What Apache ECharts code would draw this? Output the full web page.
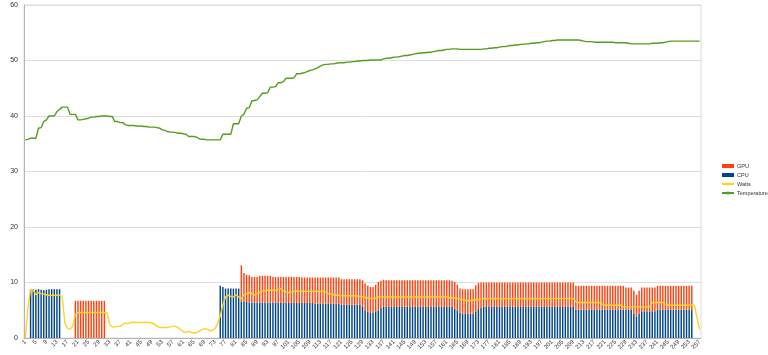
<!DOCTYPE html>
<html>
<head>
<meta charset="utf-8">
<script src="https://cdn.jsdelivr.net/npm/echarts@6/dist/echarts.min.js"></script>
<style>html,body{margin:0;padding:0;background:#fff}#chart{width:768px;height:355px}</style>
</head>
<body>
<div id="chart"></div>
<script>
// sample index 1..257
var samples = [];
for (var i = 1; i <= 257; i++) samples.push(String(i));

var cpu = [
  0,0,8.8,8.8,8.7,8.8,8.7,8.6,8.7,8.8,
  8.8,8.8,8.8,8.8,0,0,0,0,0,0,
  0,0,0,0,0,0,0,0,0,0,
  0,0,0,0,0,0,0,0,0,0,
  0,0,0,0,0,0,0,0,0,0,
  0,0,0,0,0,0,0,0,0,0,
  0,0,0,0,0,0,0,0,0,0,
  0,0,0,0,9.4,9.2,8.9,8.9,8.9,8.9,
  8.9,8.9,6.6,6.5,6.5,6.4,6.4,6.4,6.4,6.4,
  6.4,6.4,6.4,6.4,6.4,6.4,6.4,6.3,6.3,6.3,
  6.3,6.3,6.3,6.3,6.3,6.3,6.3,6.3,6.3,6.3,
  6.2,6.2,6.2,6.2,6.2,6.2,6.2,6.2,6.2,6.2,
  6.0,6.0,6.0,6.0,6.0,6.0,6.0,6.0,5.7,5.0,
  4.7,4.5,4.5,4.8,5.0,5.5,5.6,5.6,5.6,5.6,
  5.6,5.6,5.6,5.6,5.6,5.6,5.6,5.6,5.6,5.6,
  5.6,5.6,5.6,5.6,5.6,5.6,5.6,5.6,5.6,5.6,
  5.6,5.6,5.6,5.3,5.0,4.6,4.4,4.4,4.4,4.4,
  4.4,4.7,5.2,5.5,5.6,5.6,5.6,5.6,5.6,5.6,
  5.6,5.6,5.6,5.6,5.6,5.6,5.6,5.6,5.6,5.6,
  5.6,5.6,5.6,5.6,5.6,5.6,5.6,5.6,5.6,5.6,
  5.6,5.6,5.6,5.6,5.6,5.6,5.6,5.6,5.6,5.1,
  5.1,5.1,5.1,5.1,5.1,5.1,5.1,5.1,5.1,5.1,
  5.1,5.1,5.1,5.1,5.1,5.1,5.1,5.1,5.1,5.1,
  5.1,4.4,3.9,4.4,4.8,4.8,4.8,4.8,4.8,4.8,
  5.1,5.1,5.1,5.1,5.1,5.1,5.1,5.1,5.1,5.1,
  5.1,5.1,5.1,5.1,0,0,0
];

var gpu = [
  0,0,0,0,0,0,0,0,0,0,
  0,0,0,0,0,0,0,0,0,6.7,
  6.7,6.7,6.7,6.7,6.7,6.7,6.7,6.7,6.7,6.7,
  6.7,0,0,0,0,0,0,0,0,0,
  0,0,0,0,0,0,0,0,0,0,
  0,0,0,0,0,0,0,0,0,0,
  0,0,0,0,0,0,0,0,0,0,
  0,0,0,0,0,0,0,0,0,0,
  0,0,6.5,5.2,4.9,4.9,4.6,4.6,4.6,4.8,
  4.8,4.8,4.8,4.8,4.6,4.6,4.6,4.7,4.7,4.7,
  4.7,4.7,4.7,4.7,4.7,4.6,4.6,4.6,4.6,4.6,
  4.7,4.7,4.7,4.7,4.7,4.7,4.7,4.7,4.7,4.7,
  4.6,4.6,4.6,4.6,4.6,4.6,4.6,4.6,4.7,4.8,
  4.7,4.7,4.7,4.8,5.1,4.8,4.9,4.8,4.8,4.8,
  4.8,4.8,4.8,4.8,4.8,4.8,4.8,4.8,4.8,4.8,
  4.8,4.8,4.8,4.8,4.8,4.8,4.8,4.8,4.8,4.8,
  4.8,4.8,4.7,4.8,4.6,4.3,4.4,4.4,4.4,4.4,
  4.4,4.8,4.7,4.5,4.4,4.4,4.4,4.4,4.4,4.4,
  4.4,4.4,4.4,4.4,4.4,4.4,4.4,4.4,4.4,4.4,
  4.4,4.4,4.4,4.4,4.4,4.4,4.4,4.4,4.4,4.4,
  4.4,4.4,4.4,4.4,4.4,4.4,4.4,4.4,4.4,4.3,
  4.3,4.3,4.3,4.3,4.3,4.3,4.3,4.3,4.3,4.3,
  4.3,4.3,4.3,4.3,4.3,4.3,4.3,4.3,4.0,4.0,
  4.0,4.1,3.9,4.1,4.3,4.3,4.3,4.3,4.3,4.3,
  4.3,4.3,4.3,4.3,4.3,4.3,4.3,4.3,4.3,4.3,
  4.3,4.3,4.3,4.3,0,0,0
];

var watts = [
  0,5.5,8.8,8.6,7.8,8.2,8.0,7.9,7.8,7.7,
  7.7,7.7,7.7,7.7,7.4,2.8,1.7,1.6,2.1,4.3,
  4.6,4.6,4.6,4.6,4.6,4.6,4.6,4.6,4.6,4.6,
  4.6,4.5,2.5,2.0,2.0,2.1,2.1,2.4,2.7,2.6,
  2.8,2.8,2.8,2.8,2.8,2.8,2.8,2.8,2.7,2.5,
  2.1,1.9,1.9,1.9,1.9,2.0,2.1,2.1,1.9,1.5,
  1.1,1.0,1.2,1.0,0.9,1.0,1.2,1.5,1.7,1.6,
  1.3,1.4,1.7,2.6,4.0,6.0,7.4,7.7,7.5,7.4,
  7.8,7.4,7.1,7.8,8.0,8.2,8.0,7.7,8.0,8.2,
  8.5,8.5,8.6,8.6,8.6,8.6,8.7,8.9,8.5,8.3,
  8.2,8.3,8.4,8.5,8.4,8.4,8.4,8.4,8.4,8.4,
  8.4,8.4,8.4,8.5,8.3,8.0,7.9,7.8,7.7,7.7,
  7.6,7.6,7.6,7.6,7.6,7.6,7.6,7.5,7.4,7.3,
  7.2,7.1,7.1,7.2,7.4,7.4,7.4,7.4,7.4,7.4,
  7.4,7.4,7.4,7.4,7.4,7.4,7.4,7.4,7.4,7.4,
  7.4,7.4,7.4,7.4,7.4,7.4,7.4,7.4,7.4,7.4,
  7.4,7.3,7.2,7.2,7.1,7.0,6.9,6.8,6.7,6.7,
  6.8,6.9,7.0,7.0,7.1,7.1,7.1,7.1,7.1,7.1,
  7.1,7.1,7.1,7.1,7.1,7.1,7.1,7.1,7.1,7.1,
  7.1,7.1,7.1,7.1,7.1,7.1,7.1,7.1,7.1,7.1,
  7.1,7.1,7.1,7.1,7.1,7.1,7.1,7.1,7.1,6.6,
  6.4,6.4,6.4,6.4,6.4,6.4,6.4,6.4,6.4,6.1,
  5.9,5.9,5.9,5.9,5.9,5.9,5.9,5.6,5.6,5.6,
  5.6,5.6,5.6,5.6,5.6,5.6,5.6,5.6,6.4,6.4,
  6.4,6.4,6.4,6.1,5.9,5.9,5.9,5.9,5.9,5.9,
  5.9,5.9,5.9,5.9,5.9,3.6,1.5
];

var temperature = [
  35.7,35.8,36.0,36.0,36.0,37.8,37.9,39.0,39.3,40.0,
  40.0,40.0,40.8,41.2,41.6,41.6,41.6,40.3,40.3,40.3,
  39.3,39.3,39.4,39.5,39.6,39.8,39.8,39.9,39.9,40.0,
  40.0,40.0,39.9,39.9,39.0,39.0,38.8,38.8,38.4,38.3,
  38.3,38.3,38.2,38.2,38.2,38.1,38.1,38.0,38.0,38.0,
  37.9,37.8,37.5,37.4,37.2,37.1,37.1,37.0,36.9,36.9,
  36.8,36.7,36.3,36.3,36.3,36.2,35.9,35.8,35.8,35.7,
  35.7,35.7,35.7,35.7,35.7,36.7,36.7,36.7,36.7,38.6,
  38.6,38.6,40.0,40.3,41.4,41.5,42.7,42.8,42.9,43.5,
  44.1,44.1,44.2,45.2,45.2,45.3,46.0,46.0,46.2,46.8,
  46.8,46.8,46.9,47.6,47.6,47.7,47.8,48.0,48.2,48.3,
  48.5,48.7,49.0,49.2,49.3,49.3,49.4,49.4,49.5,49.6,
  49.6,49.6,49.7,49.7,49.8,49.8,49.9,49.9,50.0,50.0,
  50.0,50.1,50.1,50.1,50.1,50.1,50.3,50.4,50.4,50.5,
  50.6,50.6,50.7,50.8,50.9,50.9,51.0,51.1,51.2,51.3,
  51.3,51.4,51.4,51.5,51.5,51.6,51.7,51.8,51.8,51.9,
  52.0,52.0,52.1,52.1,52.1,52.0,52.0,52.0,52.0,52.0,
  52.0,52.0,52.0,52.0,52.1,52.1,52.2,52.2,52.3,52.3,
  52.4,52.5,52.5,52.6,52.7,52.7,52.8,52.8,52.9,52.9,
  53.0,53.0,53.1,53.1,53.2,53.2,53.3,53.4,53.5,53.5,
  53.6,53.6,53.7,53.7,53.7,53.7,53.7,53.7,53.7,53.7,
  53.7,53.6,53.5,53.4,53.4,53.4,53.3,53.3,53.3,53.3,
  53.3,53.3,53.3,53.3,53.2,53.2,53.2,53.2,53.2,53.1,
  53.0,53.0,53.0,53.0,53.0,53.0,53.0,53.0,53.1,53.1,
  53.1,53.2,53.2,53.3,53.4,53.5,53.5,53.5,53.5,53.5,
  53.5,53.5,53.5,53.5,53.5,53.5,53.5
];

var colors = { gpu: '#ff420e', cpu: '#004586', watts: '#ffd320', temp: '#579d1c' };

var option = {
  animation: false,
  textStyle: { fontFamily: 'Liberation Sans' },
  grid: { left: 24, right: 67, top: 5, bottom: 17, show: true, borderColor: '#dcdcdc', borderWidth: 1 },
  legend: {
    orient: 'vertical',
    left: 716,
    top: 158,
    itemWidth: 12,
    itemHeight: 4,
    itemGap: 3,
    textStyle: { fontSize: 5.5, color: '#333', padding: [0, 0, 0, -2] },
    data: [
      { name: 'GPU', icon: 'rect' },
      { name: 'CPU', icon: 'rect' },
      'Watts',
      'Temperature'
    ]
  },
  xAxis: {
    type: 'category',
    data: samples,
    axisLine: { lineStyle: { color: '#b3b3b3' } },
    axisTick: { show: false },
    axisLabel: { interval: 3, rotate: 45, fontSize: 6, color: '#333', margin: 3 }
  },
  yAxis: {
    type: 'value',
    min: 0,
    max: 60,
    interval: 10,
    axisLine: { show: true, lineStyle: { color: '#b3b3b3' } },
    splitLine: { lineStyle: { color: '#dddddd' } },
    axisLabel: { fontSize: 7, color: '#333', margin: 6 }
  },
  series: [
    { name: 'CPU', type: 'bar', stack: 'load', data: cpu, barWidth: '55%', itemStyle: { color: colors.cpu } },
    { name: 'GPU', type: 'bar', stack: 'load', data: gpu, barWidth: '55%', itemStyle: { color: colors.gpu } },
    { name: 'Watts', type: 'line', data: watts, symbol: 'none', lineStyle: { width: 1.4, color: colors.watts }, itemStyle: { color: colors.watts } },
    { name: 'Temperature', type: 'line', data: temperature, symbol: 'none', lineStyle: { width: 1.4, color: colors.temp }, itemStyle: { color: colors.temp } }
  ]
};

var myChart = echarts.init(document.getElementById('chart'));
myChart.setOption(option);
</script>
</body>
</html>
